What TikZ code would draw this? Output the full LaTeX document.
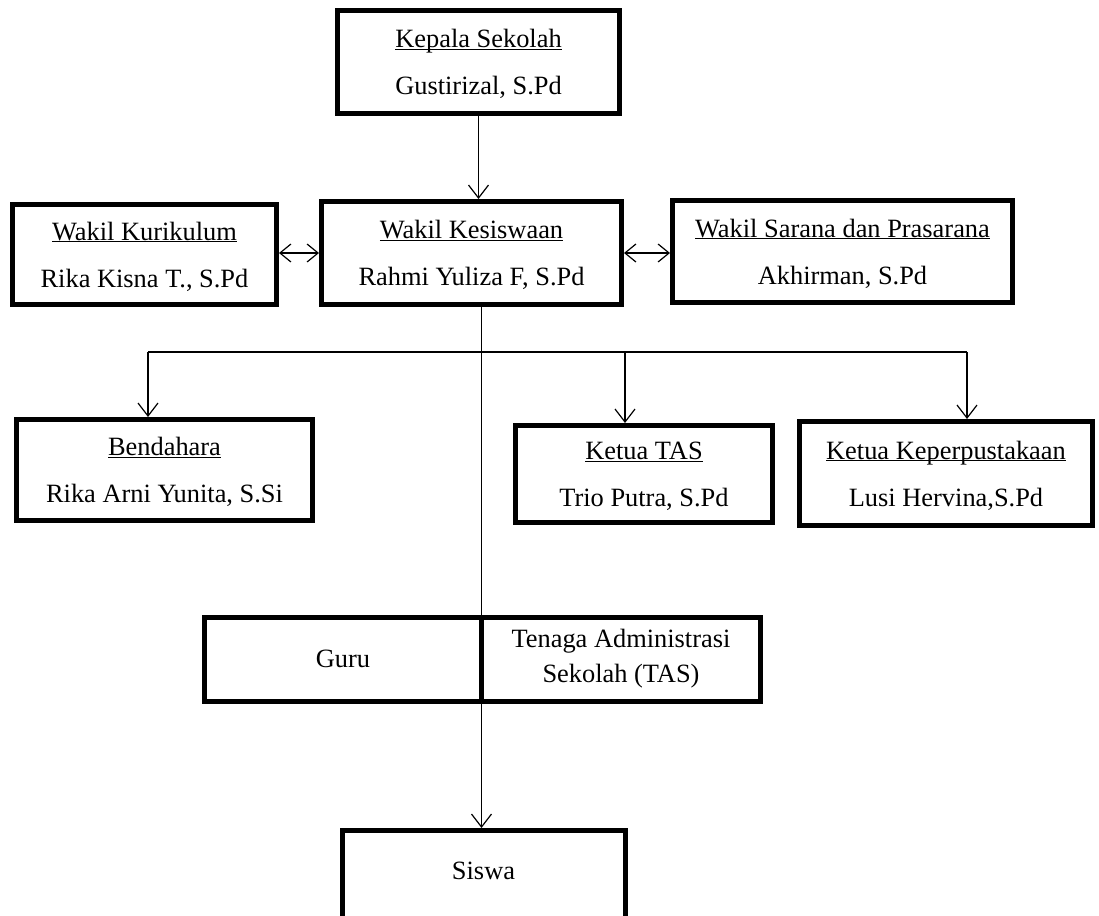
\documentclass[tikz,border=0pt]{standalone}
\usepackage{fontspec}
\setmainfont{Liberation Serif}
\usetikzlibrary{arrows.meta}
\usetikzlibrary{positioning}
\tikzset{box/.style = {draw, line width = 5pt, align = center, inner sep = 0,
                       font = \fontsize{26.4}{35}\selectfont}}
\tikzset{headbox/.style = {box, text height = 65pt, text depth = 0pt,
                           font = \fontsize{26.4}{47}\selectfont}}
\tikzset{link/.style = {line width = 1.2pt}}
\tikzset{arr/.style = {link, -{Straight Barb[length = 13pt, width = 20pt]}}}
\tikzset{darr/.style = {link, {Straight Barb[length = 11pt, width = 18pt]}-{Straight Barb[length = 11pt, width = 18pt]}}}
\newcommand{\ulhead}[1]{\underline{\smash{#1}}}

\begin{document}
\begin{tikzpicture}[x = 1pt, y = -1pt]
    \useasboundingbox (0, 0) rectangle (1099, 915);
    \clip (0, 0) rectangle (1099, 915);

    \node [headbox, minimum width = 282, minimum height = 103] (kepala) at (478.5, 62) {\ulhead{Kepala Sekolah}\\Gustirizal, S.Pd};

    \node [headbox, minimum width = 264, minimum height = 100] (kurikulum) at (144.5, 254.5) {\ulhead{Wakil Kurikulum}\\Rika Kisna T., S.Pd};
    \node [headbox, minimum width = 300, minimum height = 103] (kesiswaan) at (471.5, 253) {\ulhead{Wakil Kesiswaan}\\Rahmi Yuliza F, S.Pd};
    \node [headbox, minimum width = 340, minimum height = 102] (sarana) at (842.5, 251.5) {\ulhead{Wakil Sarana dan Prasarana}\\Akhirman, S.Pd};

    \node [headbox, minimum width = 296, minimum height = 101] (bendahara) at (164.5, 470) {\ulhead{Bendahara}\\Rika Arni Yunita, S.Si};
    \node [headbox, minimum width = 257, minimum height = 97] (ketuatas) at (644, 474) {\ulhead{Ketua TAS}\\Trio Putra, S.Pd};
    \node [headbox, minimum width = 293, minimum height = 104] (perpus) at (946, 473.5) {\ulhead{Ketua Keperpustakaan}\\Lusi Hervina,S.Pd};

    \node [box, minimum width = 277, minimum height = 84] (guru) at (343, 659) {Guru};
    \node [box, minimum width = 279, minimum height = 84, right = -5pt of guru] (tas) {Tenaga Administrasi\\Sekolah (TAS)};

    \node [box, anchor = north, minimum width = 283, minimum height = 170, text depth = 90pt] (siswa) at (483.5, 828) {Siswa};

    \draw [arr] (kepala.south) -- (kepala.south |- kesiswaan.north);
    \draw [darr] (kesiswaan.west -| kurikulum.east) -- (kesiswaan.west);
    \draw [darr] (kesiswaan.east) -- (kesiswaan.east -| sarana.west);

    \coordinate (spine) at (481.5, 0);
    \draw [arr] (spine |- kesiswaan.south) -- (spine |- siswa.north);

    \coordinate (barl) at (148, 352);
    \coordinate (barm) at (625, 352);
    \coordinate (barr) at (967, 352);
    \draw [link] (barl) -- (barr);
    \draw [arr] (barl) -- (barl |- bendahara.north);
    \draw [arr] (barm) -- (barm |- ketuatas.north);
    \draw [arr] (barr) -- (barr |- perpus.north);
\end{tikzpicture}
\end{document}
